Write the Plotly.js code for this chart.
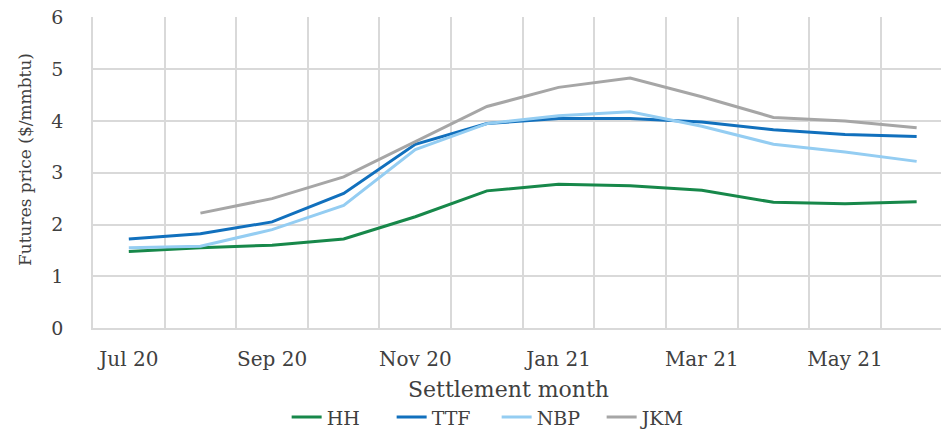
<!DOCTYPE html>
<html>
<head>
<meta charset="utf-8">
<script src="https://cdn.plot.ly/plotly-3.0.1.min.js"></script>
<style>html,body{margin:0;padding:0;background:#fff;}#chart{width:941px;height:429px;}</style>
</head>
<body>
<div id="chart"></div>
<script>
const months = ["Jul 20","Aug 20","Sep 20","Oct 20","Nov 20","Dec 20","Jan 21","Feb 21","Mar 21","Apr 21","May 21","Jun 21"];
const tickLabels = ["Jul 20","Sep 20","Nov 20","Jan 21","Mar 21","May 21"];
const hh  = [1.48,1.55,1.60,1.72,2.15,2.65,2.78,2.75,2.66,2.43,2.40,2.44];
const ttf = [1.72,1.82,2.05,2.60,3.55,3.95,4.05,4.05,3.98,3.83,3.74,3.70];
const nbp = [1.55,1.58,1.90,2.37,3.45,3.95,4.10,4.18,3.90,3.55,3.40,3.22];
const jkm = [null,2.22,2.50,2.92,3.60,4.28,4.65,4.83,4.47,4.07,4.00,3.87];
const xTitle = 'Settlement month';
const yTitle = 'Futures price ($/mmbtu)';

const idx = months.map((m,i)=>i);
const tickIdx = tickLabels.map(t=>months.indexOf(t));

function tr(name, y, color){
  return {x: idx, y: y, name: name, type:'scatter', mode:'lines',
    line:{color: color, width: 3}, text: months, hovertemplate:'%{text}: %{y}<extra>'+name+'</extra>'};
}
const data = [tr('HH',hh,'#17884a'), tr('TTF',ttf,'#1170bd'), tr('NBP',nbp,'#94cdf2'), tr('JKM',jkm,'#a6a6a6')];

const font = "'DejaVu Serif', 'Liberation Serif', serif";
const layout = {
  width: 941, height: 429,
  margin: {l:93, r:0, t:17, b:101, autoexpand:false},
  paper_bgcolor:'#fff', plot_bgcolor:'#fff',
  font: {family: font, color:'#404040', size:15},
  showlegend: true,
  legend: {orientation:'h', x:0.476, xanchor:'center', y:-0.287, yanchor:'middle',
    font:{family: font, size:19, color:'#404040'}, itemwidth:30, tracegroupgap:0,
    entrywidth:60, entrywidthmode:'pixels'},
  xaxis: {
    automargin:false,
    range:[-0.5, 11.34], tickvals: tickIdx, ticktext: tickLabels,
    showgrid:false, zeroline:false, showline:true, linecolor:'#d9d9d9', linewidth:1.5,
    ticks:'', ticklabelstandoff:12,
    tickfont:{family: font, size:20, color:'#404040'},
    minor:{tick0:0.5, dtick:1, showgrid:true, gridcolor:'#d9d9d9', gridwidth:1.5, ticks:''}
  },
  yaxis: {
    automargin:false,
    range:[0, 6.01], dtick:1, tick0:0,
    showgrid:true, gridcolor:'#d9d9d9', gridwidth:1.5, zeroline:false,
    showline:true, linecolor:'#d9d9d9', linewidth:1.5,
    ticks:'', ticklabelstandoff:24,
    tickfont:{family: font, size:19, color:'#404040'}
  },
  annotations: [
    {text: xTitle, xref:'paper', yref:'paper', x:0.4894, y:-0.197, xanchor:'center', yanchor:'middle',
     showarrow:false, font:{family: font, size:22, color:'#404040'}},
    {text: yTitle, xref:'paper', yref:'paper', x:-0.0802, y:0.5434, xanchor:'center', yanchor:'middle',
     textangle:-90, showarrow:false, font:{family: font, size:17, color:'#404040'}}
  ]
};
Plotly.newPlot('chart', data, layout, {displayModeBar:false, responsive:false});
</script>
</body>
</html>
